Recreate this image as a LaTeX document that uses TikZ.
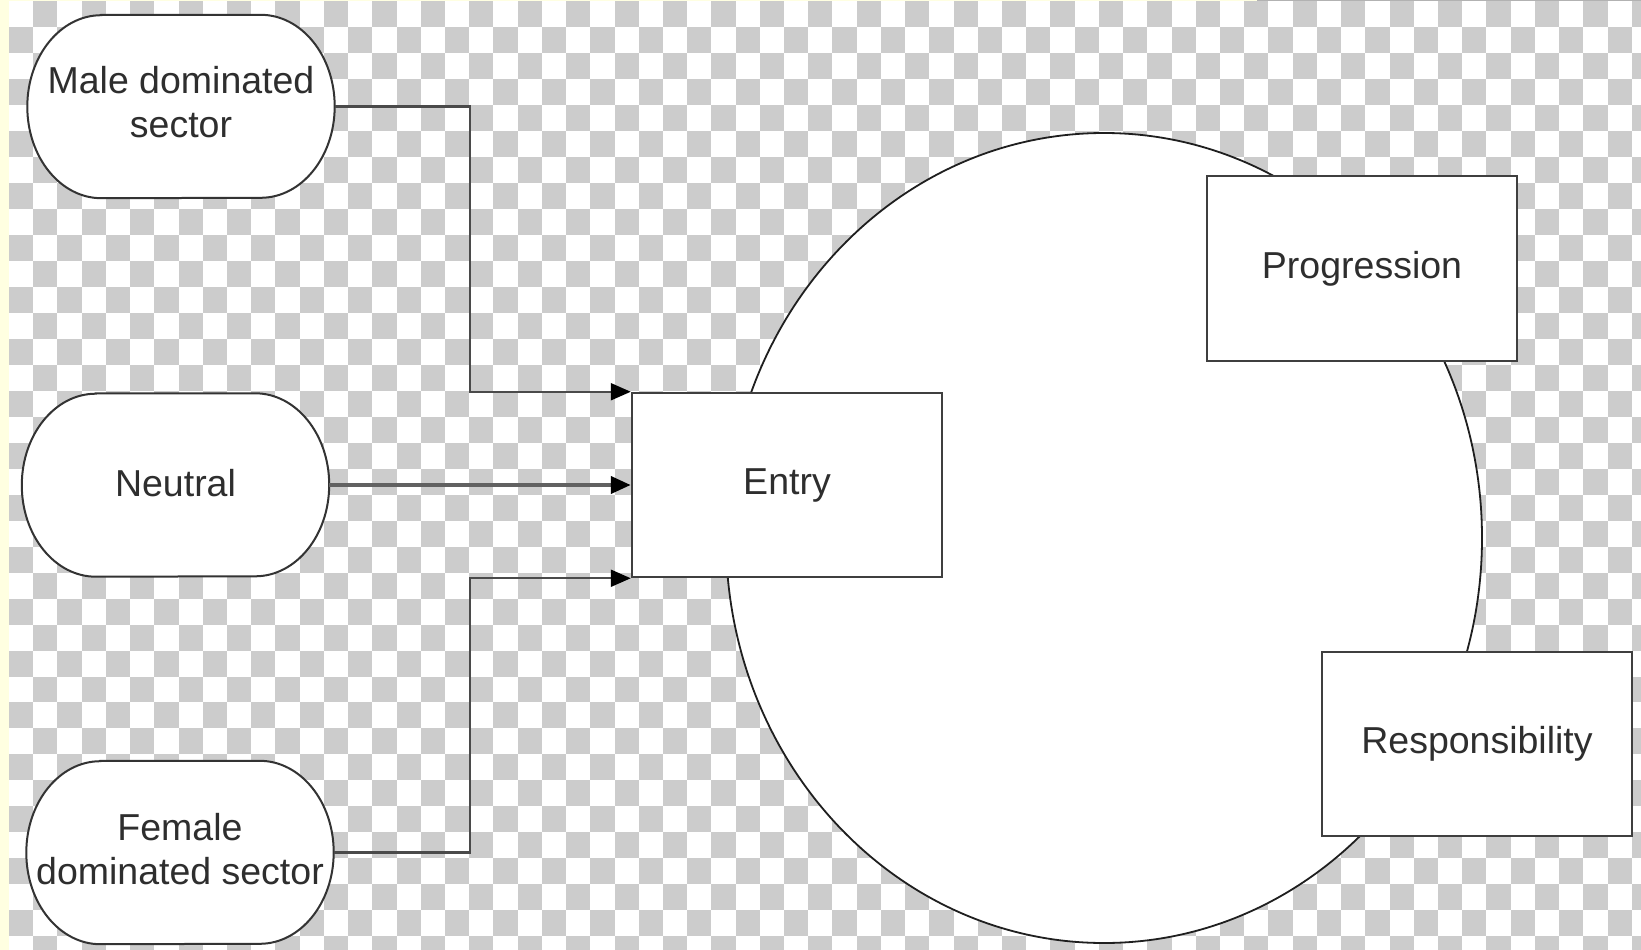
\documentclass[tikz,border=0pt]{standalone}
\usepackage{fontspec}
\setmainfont{Liberation Sans}
\usetikzlibrary{arrows.meta,shapes.geometric,calc}
\pgfdeclarelayer{back}
\pgfsetlayers{back,main}
\definecolor{checkgrey}{HTML}{CCCCCC}
\definecolor{edgeyellow}{HTML}{FFFFE1}
\definecolor{linegrey}{HTML}{4A4A4A}
\definecolor{boxline}{HTML}{3F3F3F}
\definecolor{txt}{HTML}{2E2E2E}
\tikzset{
  stad/.style={rectangle, draw=none, minimum width=307pt, minimum height=183pt,
    inner sep=0pt, align=center, text=txt, font=\fontsize{37.5}{44}\selectfont},
  boxnode/.style={rectangle, draw=boxline, line width=2.5pt, fill=white,
    minimum width=310pt, minimum height=184pt, inner sep=0pt, text=txt,
    font=\fontsize{37.5}{44}\selectfont},
  stadline/.style={draw=black!80, line width=2pt, fill=white},
  conn/.style={draw=linegrey, line width=2.2pt, -{Triangle[length=20pt,width=17pt,color=black]}},
  thickconn/.style={conn, draw=black!62, line width=4pt},
}
\newcommand\stadiumoutline[1]{%
  \path[stadline] ([xshift=74pt]#1.north west) -- ([xshift=-74pt]#1.north east)
    arc[start angle=90,end angle=-90,x radius=74pt,y radius=91.5pt]
    -- ([xshift=74pt]#1.south west)
    arc[start angle=270,end angle=90,x radius=74pt,y radius=91.5pt] -- cycle;}
\begin{document}
\begin{tikzpicture}[x=1pt,y=-1pt]
\useasboundingbox (0,0) rectangle (1641,950);
\begin{pgfonlayer}{back}
  \begin{scope}
    \clip (0,0) rectangle (1641,950);
    \fill[white] (0,0) rectangle (1641,950);
    \foreach \i in {0,...,67}{
      \pgfmathtruncatemacro{\js}{mod(\i+1,2)}
      \pgfmathtruncatemacro{\jn}{\js+2}
      \foreach \j in {\js,\jn,...,36}{
        \fill[checkgrey] ({9+\i*24.22},{1.3+\j*25.97}) rectangle ++(24.22,25.97);
      }
    }
    \fill[edgeyellow] (0,0) rectangle (9,950);
    \fill[edgeyellow] (0,0) rectangle (1257,1.3);
    \fill[black!30] (1257,0) rectangle (1641,1.3);
  \end{scope}
  \node[ellipse, draw=black!88, line width=1.8pt, fill=white, minimum width=756pt,
    minimum height=810pt, inner sep=0pt] (circ) at (1104,538) {};
\end{pgfonlayer}

\node[stad] (male) at (181,106.5) {};
\node[stad] (neutral) at (175.5,485) {};
\node[stad] (female) at (180,852.5) {};
\node[stad, minimum height=0pt] (maletext) at (181,102.5) {Male dominated\\sector};
\node[stad, minimum height=0pt] (neutraltext) at (175.5,483) {Neutral};
\node[stad, minimum height=0pt] (femaletext) at (180,849) {Female\\dominated sector};

\begin{pgfonlayer}{back}
  \stadiumoutline{male}
  \stadiumoutline{neutral}
  \stadiumoutline{female}
\end{pgfonlayer}

\node[boxnode] (entry) at (787,485) {Entry};
\node[boxnode, minimum height=185pt] (prog) at (1362,268.5) {Progression};
\node[boxnode] (resp) at (1477,744) {Responsibility};

\coordinate (jx) at (470,0);
\draw[conn] (male.east) -- (male.east -| jx) |- (entry.north west);
\draw[thickconn] (neutral.east) -- (entry.west);
\draw[conn] (female.east) -- (female.east -| jx) |- (entry.south west);
\end{tikzpicture}
\end{document}
